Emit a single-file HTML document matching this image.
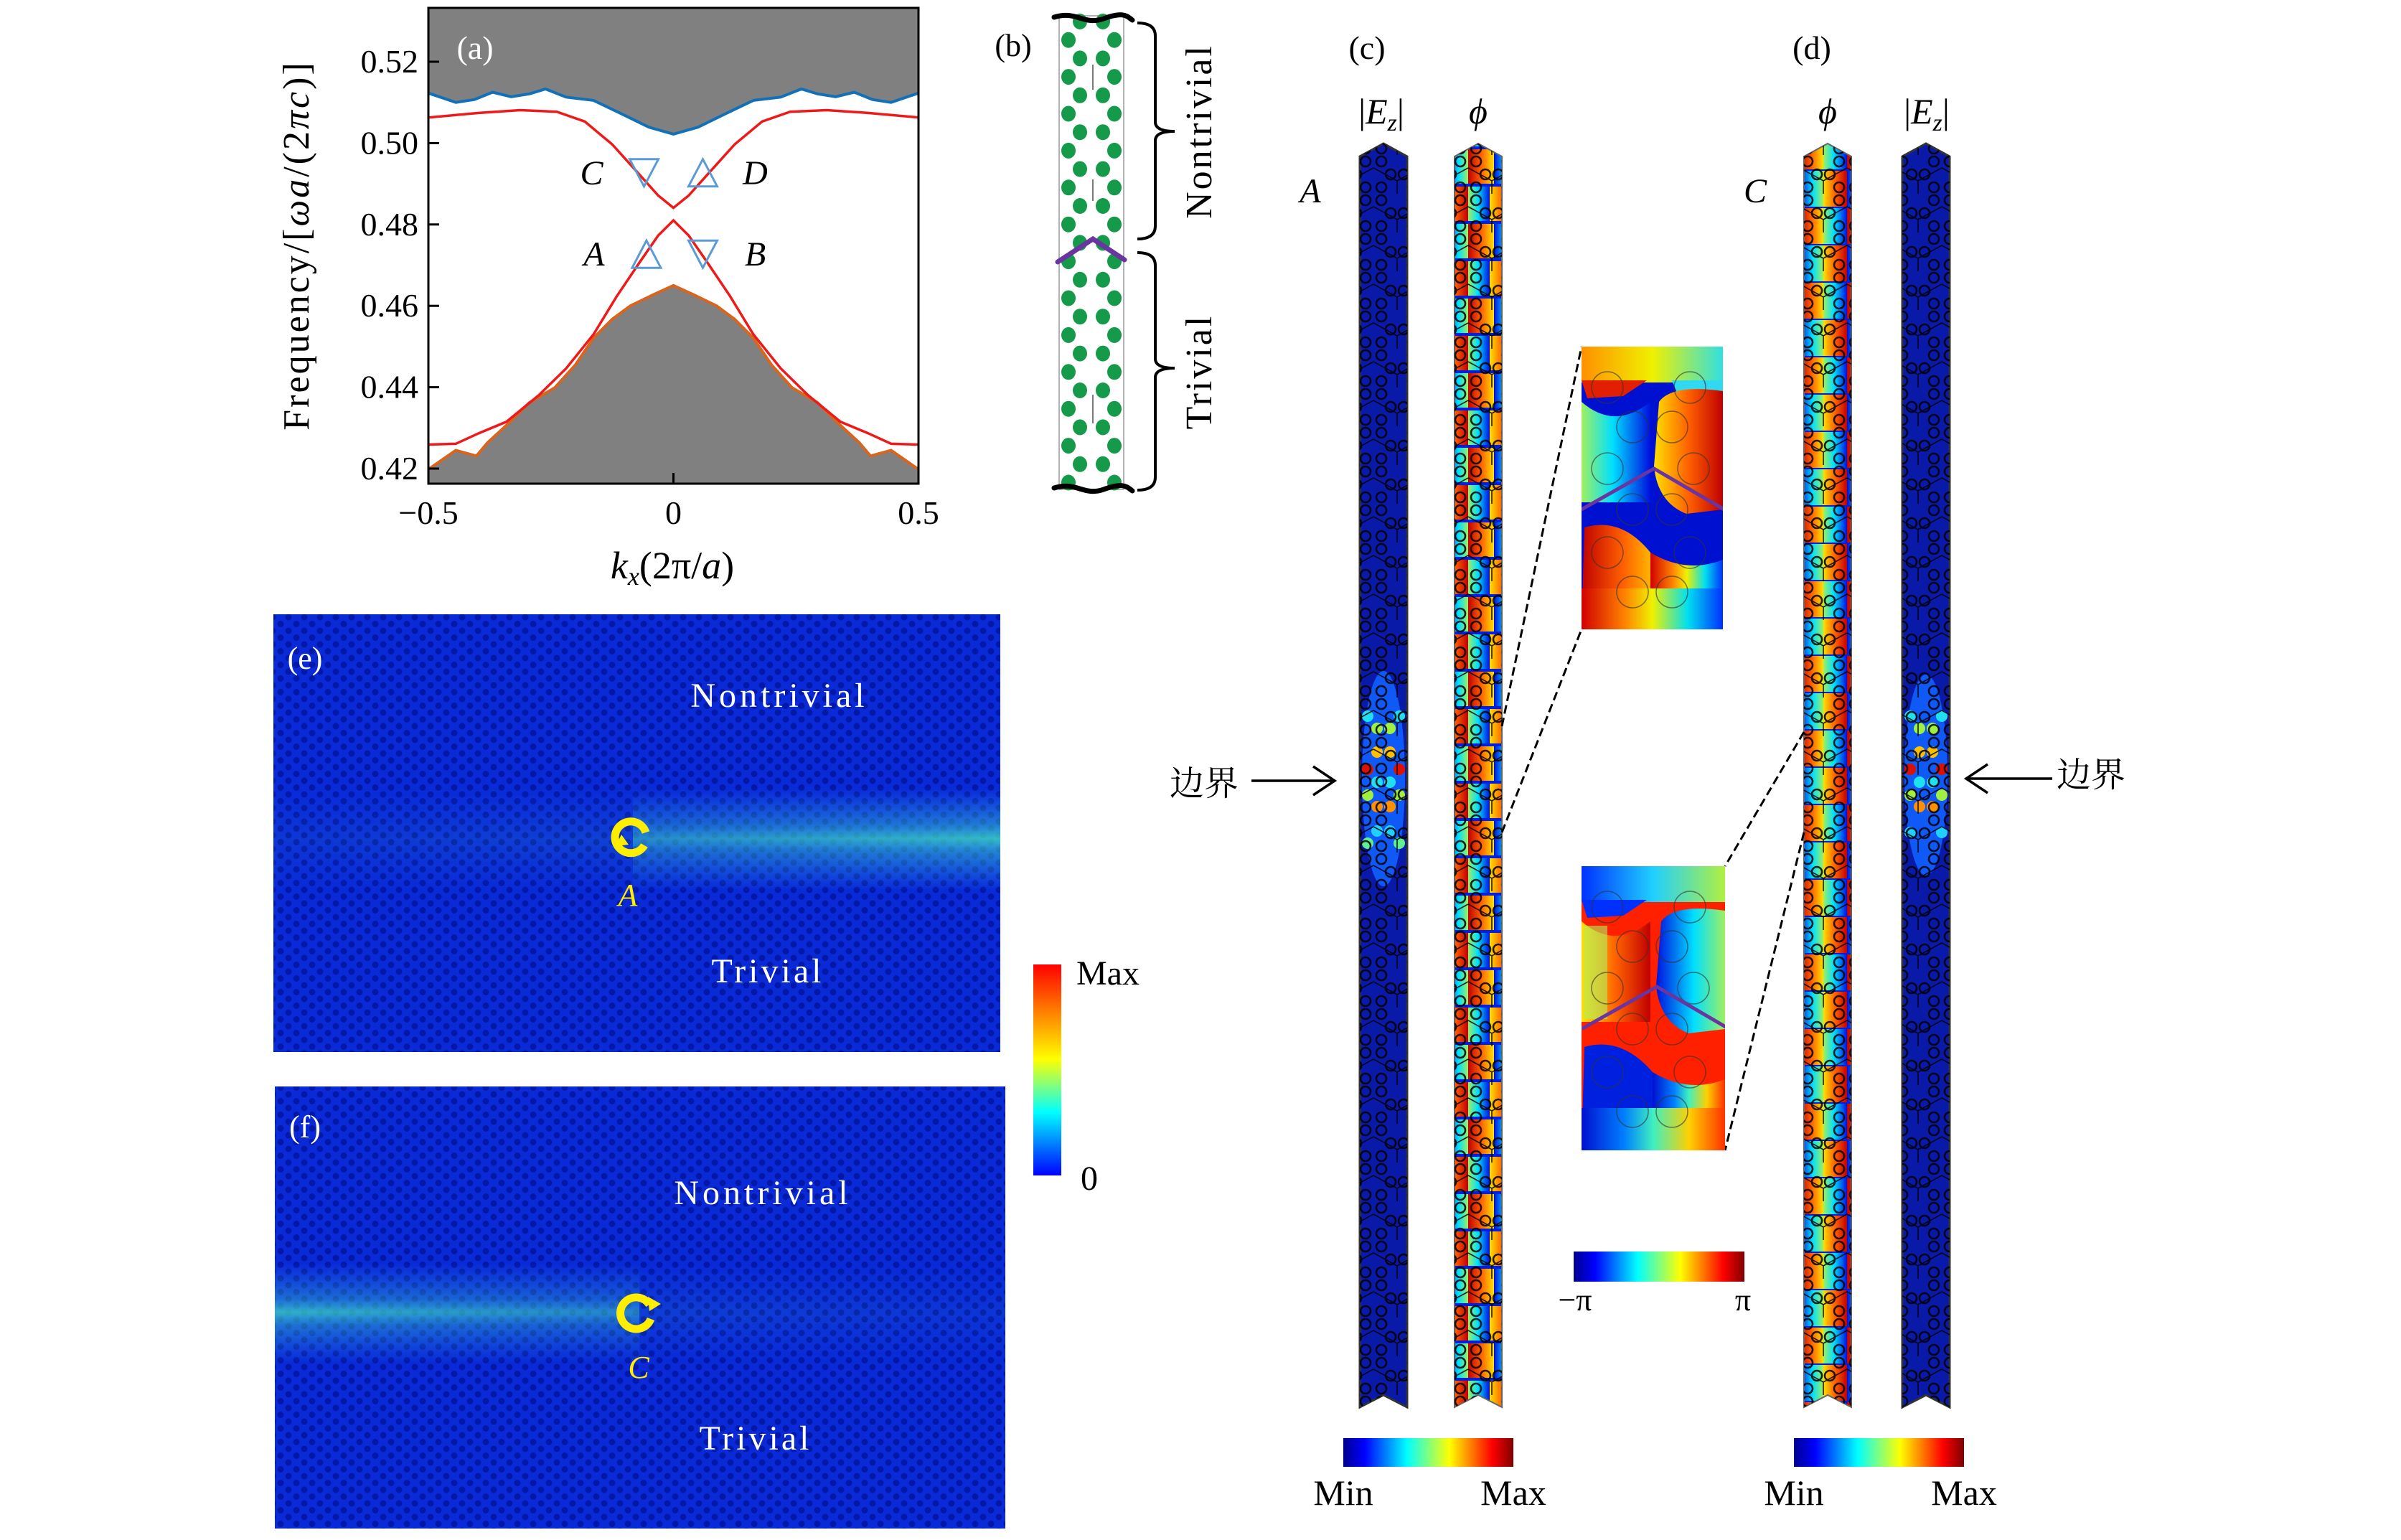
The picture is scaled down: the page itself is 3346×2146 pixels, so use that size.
<!DOCTYPE html>
<html><head><meta charset="utf-8"><style>
html,body{margin:0;padding:0;background:#fff;}
svg{display:block;}
text{font-family:"Liberation Serif","Noto Serif CJK SC",serif;}
</style></head><body>
<svg id="fig" width="3346" height="2146" viewBox="0 0 3346 2146" xmlns="http://www.w3.org/2000/svg">
<defs>
<linearGradient id="jetH" x1="0" y1="0" x2="1" y2="0">
<stop offset="0" stop-color="#00008f"/><stop offset="0.125" stop-color="#0000ff"/><stop offset="0.375" stop-color="#00ffff"/><stop offset="0.625" stop-color="#ffff00"/><stop offset="0.875" stop-color="#ff0000"/><stop offset="1" stop-color="#800000"/>
</linearGradient>
<linearGradient id="jetV" x1="0" y1="1" x2="0" y2="0">
<stop offset="0" stop-color="#0000ff"/><stop offset="0.3" stop-color="#00ffff"/><stop offset="0.55" stop-color="#ffff00"/><stop offset="1" stop-color="#ff0000"/>
</linearGradient>
<linearGradient id="warm" x1="0" y1="0" x2="1" y2="0"><stop offset="0" stop-color="#c00000"/><stop offset="0.5" stop-color="#ff6000"/><stop offset="1" stop-color="#ffe000"/></linearGradient>
<linearGradient id="warmR" x1="1" y1="0" x2="0" y2="0"><stop offset="0" stop-color="#c00000"/><stop offset="0.5" stop-color="#ff6000"/><stop offset="1" stop-color="#ffe000"/></linearGradient>
<linearGradient id="cool" x1="0" y1="0" x2="1" y2="0"><stop offset="0" stop-color="#a0f060"/><stop offset="0.45" stop-color="#00e0ff"/><stop offset="1" stop-color="#0010e0"/></linearGradient>
<linearGradient id="coolR" x1="1" y1="0" x2="0" y2="0"><stop offset="0" stop-color="#a0f060"/><stop offset="0.45" stop-color="#00e0ff"/><stop offset="1" stop-color="#0010e0"/></linearGradient>
<linearGradient id="topU" x1="0" y1="0" x2="1" y2="0"><stop offset="0" stop-color="#ff9000"/><stop offset="0.5" stop-color="#f0f000"/><stop offset="1" stop-color="#30e0e0"/></linearGradient>
<linearGradient id="topL" x1="0" y1="0" x2="1" y2="0"><stop offset="0" stop-color="#0030ff"/><stop offset="0.5" stop-color="#20d0ff"/><stop offset="1" stop-color="#b0f040"/></linearGradient>
<linearGradient id="botU" x1="0" y1="0" x2="1" y2="0"><stop offset="0" stop-color="#d00000"/><stop offset="0.3" stop-color="#ff8000"/><stop offset="0.5" stop-color="#f0f000"/><stop offset="0.75" stop-color="#00e0f0"/><stop offset="1" stop-color="#0030ff"/></linearGradient>
<linearGradient id="botL" x1="0" y1="0" x2="1" y2="0"><stop offset="0" stop-color="#0010d0"/><stop offset="0.3" stop-color="#0080ff"/><stop offset="0.5" stop-color="#40f0c0"/><stop offset="0.75" stop-color="#ffd000"/><stop offset="1" stop-color="#ff3000"/></linearGradient>
<linearGradient id="glowV" x1="0" y1="0" x2="0" y2="1"><stop offset="0" stop-color="#30c0ff" stop-opacity="0"/><stop offset="0.5" stop-color="#40e0c0" stop-opacity="0.55"/><stop offset="1" stop-color="#30c0ff" stop-opacity="0"/></linearGradient>
<linearGradient id="fadeL" x1="0" y1="0" x2="1" y2="0"><stop offset="0" stop-color="#fff" stop-opacity="0.35"/><stop offset="1" stop-color="#fff" stop-opacity="1"/></linearGradient>
<linearGradient id="fadeR" x1="0" y1="0" x2="1" y2="0"><stop offset="0" stop-color="#fff" stop-opacity="1"/><stop offset="1" stop-color="#fff" stop-opacity="0.35"/></linearGradient>
<mask id="mL"><rect x="381" y="1514" width="1020" height="620" fill="url(#fadeR)"/></mask>
<mask id="mR"><rect x="381" y="856" width="1013" height="610" fill="url(#fadeL)"/></mask>
<pattern id="hexdots" width="22" height="19" patternUnits="userSpaceOnUse">
<rect width="22" height="19" fill="#0a2ad8"/><circle cx="6" cy="5" r="4.5" fill="#0418a8"/><circle cx="17" cy="14.5" r="4.5" fill="#0418a8"/>
</pattern>
<pattern id="circ" width="66" height="54" patternUnits="userSpaceOnUse">
<g fill="none" stroke="#000" stroke-width="2.6"><circle cx="11" cy="9" r="7"/><circle cx="55" cy="9" r="7"/><circle cx="24" cy="27" r="7"/><circle cx="42" cy="27" r="7"/><circle cx="11" cy="45" r="7"/><circle cx="55" cy="45" r="7"/></g>
<path d="M0 18 L33 36 L66 18 M33 36 L33 54" stroke="#000" stroke-width="1.6" fill="none"/>
</pattern>
<pattern id="phase" width="66" height="104" patternUnits="userSpaceOnUse">
<rect width="66" height="104" fill="#0020e0"/>
<rect x="0" y="0" width="36" height="48" fill="url(#warm)"/>
<rect x="36" y="0" width="30" height="48" fill="url(#coolR)"/>
<rect x="0" y="52" width="30" height="48" fill="url(#cool)"/>
<rect x="30" y="52" width="36" height="48" fill="url(#warmR)"/>
</pattern>
<pattern id="phase2" width="66" height="104" patternUnits="userSpaceOnUse" patternTransform="translate(0,30)">
<rect width="66" height="104" fill="#0020e0"/>
<rect x="0" y="0" width="33" height="50" fill="url(#coolR)"/>
<rect x="33" y="0" width="33" height="50" fill="url(#warmR)"/>
<rect x="0" y="52" width="33" height="50" fill="url(#warm)"/>
<rect x="33" y="52" width="33" height="50" fill="url(#cool)"/>
</pattern>
<clipPath id="plotClip"><rect x="597" y="11" width="683" height="663"/></clipPath>
<clipPath id="insU"><rect x="2204" y="483" width="197" height="394"/></clipPath>
<clipPath id="insL"><rect x="2204" y="1207" width="200" height="396"/></clipPath>
</defs>

<!-- ===== Panel (a) ===== -->
<g id="panel-a"></g>

<!-- ===== Panel (b) ===== -->
<g>
<rect x="1476" y="22" width="90" height="660" fill="#fff" stroke="#999" stroke-width="1.5"/>
<g id="bdots"></g>
<path d="M1523 90 V 125 M1523 250 V 280 M1523 550 V 590" stroke="#222" stroke-width="1.2"/>
<path d="M1469 24 C 1500 14, 1510 36, 1538 26 S 1570 22, 1578 28" stroke="#000" stroke-width="7" fill="none" stroke-linecap="round"/>
<path d="M1469 680 C 1500 670, 1510 692, 1538 682 S 1570 678, 1578 684" stroke="#000" stroke-width="7" fill="none" stroke-linecap="round"/>
<path d="M1474 365 L1523 333 L1567 362" stroke="#6a35a0" stroke-width="7" fill="none" stroke-linecap="round"/>
<path d="M1585 32 Q1610 32 1610 50 V170 Q1610 183 1637 183 Q1610 183 1610 196 V315 Q1610 333 1585 333" stroke="#000" stroke-width="4" fill="none"/>
<path d="M1585 352 Q1610 352 1610 370 V500 Q1610 513 1637 513 Q1610 513 1610 526 V665 Q1610 683 1585 683" stroke="#000" stroke-width="4" fill="none"/>
<text x="1412" y="78" font-size="44" text-anchor="middle">(b)</text>
<text transform="translate(1688,183) rotate(-90)" font-size="52" letter-spacing="3" text-anchor="middle">Nontrivial</text>
<text transform="translate(1688,518) rotate(-90)" font-size="52" letter-spacing="3" text-anchor="middle">Trivial</text>
</g>

<!-- ===== Panels (c),(d) ===== -->
<g>
<text x="1905" y="82" font-size="46" text-anchor="middle">(c)</text>
<text x="2525" y="82" font-size="46" text-anchor="middle">(d)</text>
<text x="1925" y="172" font-size="50" text-anchor="middle">|<tspan font-style="italic">E</tspan><tspan font-style="italic" font-size="34" dy="10">z</tspan><tspan dy="-10">|</tspan></text>
<text x="2060" y="172" font-size="50" font-style="italic" text-anchor="middle">ϕ</text>
<text x="2547" y="172" font-size="50" font-style="italic" text-anchor="middle">ϕ</text>
<text x="2685" y="172" font-size="50" text-anchor="middle">|<tspan font-style="italic">E</tspan><tspan font-style="italic" font-size="34" dy="10">z</tspan><tspan dy="-10">|</tspan></text>
<text x="1826" y="282" font-size="48" font-style="italic" text-anchor="middle">A</text>
<text x="2446" y="282" font-size="48" font-style="italic" text-anchor="middle">C</text>

<g>
<path d="M1895 218 L1928 200 L1961 218 V1961 L1928 1944 L1895 1961 Z" fill="#0a1aa8" stroke="#333" stroke-width="3"/>
<g fill="#1060ff" opacity="0.9"><ellipse cx="1928" cy="1085" rx="30" ry="150"/></g>
<g><circle cx="1906" cy="1072" r="8" fill="#e01000"/><circle cx="1950" cy="1072" r="8" fill="#e01000"/>
<circle cx="1919" cy="1048" r="8" fill="#ffc000"/><circle cx="1937" cy="1048" r="8" fill="#ffc000"/>
<circle cx="1919" cy="1124" r="8" fill="#ff9000"/><circle cx="1937" cy="1124" r="8" fill="#ff9000"/>
<circle cx="1906" cy="1108" r="8" fill="#a0f040"/><circle cx="1950" cy="1108" r="8" fill="#a0f040"/>
<circle cx="1919" cy="1090" r="8" fill="#20e0f0"/><circle cx="1937" cy="1090" r="8" fill="#20e0f0"/>
<circle cx="1919" cy="1015" r="8" fill="#a0f040"/><circle cx="1937" cy="1015" r="8" fill="#a0f040"/>
<circle cx="1906" cy="998" r="8" fill="#20e0f0"/><circle cx="1950" cy="998" r="8" fill="#20e0f0"/>
<circle cx="1906" cy="1175" r="8" fill="#60f090"/><circle cx="1950" cy="1175" r="8" fill="#60f090"/>
<circle cx="1919" cy="1158" r="8" fill="#20d0ff"/><circle cx="1937" cy="1158" r="8" fill="#20d0ff"/></g>
<path d="M1895 218 L1928 200 L1961 218 V1961 L1928 1944 L1895 1961 Z" fill="url(#circ)" opacity="0.85"/>
</g>
<g>
<path d="M2027 218 L2060 200 L2093 218 V1961 L2060 1944 L2027 1961 Z" fill="url(#phase)" stroke="#666" stroke-width="2"/>
<path d="M2027 218 L2060 200 L2093 218 V1961 L2060 1944 L2027 1961 Z" fill="url(#circ)" opacity="0.85"/>
</g>
<g>
<path d="M2514 218 L2547 200 L2580 218 V1961 L2547 1944 L2514 1961 Z" fill="url(#phase2)" stroke="#666" stroke-width="2"/>
<path d="M2514 218 L2547 200 L2580 218 V1961 L2547 1944 L2514 1961 Z" fill="url(#circ)" opacity="0.85"/>
</g>
<g>
<path d="M2651 218 L2684 200 L2717 218 V1961 L2684 1944 L2651 1961 Z" fill="#0a1aa8" stroke="#333" stroke-width="3"/>
<ellipse cx="2684" cy="1080" rx="30" ry="140" fill="#1060ff" opacity="0.9"/>
<g><circle cx="2662" cy="1072" r="8" fill="#e01000"/><circle cx="2706" cy="1072" r="8" fill="#e01000"/>
<circle cx="2675" cy="1048" r="8" fill="#ffc000"/><circle cx="2693" cy="1048" r="8" fill="#ffc000"/>
<circle cx="2675" cy="1124" r="8" fill="#ff9000"/><circle cx="2693" cy="1124" r="8" fill="#ff9000"/>
<circle cx="2662" cy="1108" r="8" fill="#a0f040"/><circle cx="2706" cy="1108" r="8" fill="#a0f040"/>
<circle cx="2675" cy="1090" r="8" fill="#20e0f0"/><circle cx="2693" cy="1090" r="8" fill="#20e0f0"/>
<circle cx="2675" cy="1015" r="8" fill="#a0f040"/><circle cx="2693" cy="1015" r="8" fill="#a0f040"/>
<circle cx="2662" cy="998" r="8" fill="#20e0f0"/><circle cx="2706" cy="998" r="8" fill="#20e0f0"/>
<circle cx="2662" cy="1160" r="8" fill="#20d0ff"/><circle cx="2706" cy="1160" r="8" fill="#20d0ff"/></g>
<path d="M2651 218 L2684 200 L2717 218 V1961 L2684 1944 L2651 1961 Z" fill="url(#circ)" opacity="0.85"/>
</g>

<text x="1678" y="1108" font-size="48" text-anchor="middle">边界</text>
<path d="M1744 1088 H1858 M1830 1068 L1860 1088 L1830 1108" stroke="#000" stroke-width="3.5" fill="none"/>
<text x="2914" y="1096" font-size="48" text-anchor="middle">边界</text>
<path d="M2860 1085 H2742 M2770 1065 L2740 1085 L2770 1105" stroke="#000" stroke-width="3.5" fill="none"/>

<g stroke="#000" stroke-width="3" stroke-dasharray="12,6" fill="none">
<path d="M2093 1012 L2204 483"/><path d="M2093 1160 L2204 877"/>
<path d="M2514 1020 L2404 1207"/><path d="M2514 1160 L2404 1603"/>
</g>

<g clip-path="url(#insU)">
<rect x="2204" y="483" width="197" height="394" fill="#0010d0"/>
<rect x="2204" y="483" width="197" height="50" fill="url(#topU)"/>
<path d="M2204 530 H2295 L2262 552 L2212 555 Z" fill="#e02000"/>
<path d="M2330 530 H2401 V555 H2340 Z" fill="#30d8f0"/>
<path d="M2204 560 Q2250 600 2300 560 V700 H2204 Z" fill="url(#cool)"/>
<path d="M2305 650 L2312 560 Q2330 535 2401 545 V710 L2350 716 Q2310 700 2305 650 Z" fill="url(#warmR)"/>
<path d="M2208 735 Q2260 720 2300 770 L2320 877 H2204 Z" fill="url(#warm)"/>
<path d="M2300 770 Q2350 800 2401 780 V877 H2300 Z" fill="url(#botU)"/>
<rect x="2204" y="820" width="197" height="57" fill="url(#botU)"/>
<g fill="none" stroke="#333" stroke-width="1.5" opacity="0.6"><circle cx="2240" cy="540" r="22"/><circle cx="2355" cy="540" r="22"/><circle cx="2275" cy="595" r="22"/><circle cx="2330" cy="595" r="22"/><circle cx="2240" cy="653" r="22"/><circle cx="2360" cy="653" r="22"/><circle cx="2275" cy="710" r="22"/><circle cx="2330" cy="710" r="22"/><circle cx="2240" cy="770" r="22"/><circle cx="2355" cy="770" r="22"/><circle cx="2275" cy="825" r="22"/><circle cx="2330" cy="825" r="22"/></g>
<path d="M2204 710 L2305 653 L2408 713" stroke="#6a35a0" stroke-width="5" fill="none"/>
</g>
<g clip-path="url(#insL)">
<rect x="2204" y="1207" width="200" height="396" fill="#ff2000"/>
<rect x="2204" y="1207" width="200" height="50" fill="url(#topL)"/>
<path d="M2204 1254 H2295 L2262 1276 L2212 1279 Z" fill="#0030ff"/>
<path d="M2204 1284 Q2250 1324 2300 1284 V1424 H2204 Z" fill="url(#warmR)"/>
<path d="M2207 1290 H2240 V1420 H2207 Z" fill="#b0f060" opacity="0.6"/>
<path d="M2308 1374 L2315 1284 Q2333 1259 2404 1269 V1434 L2353 1440 Q2313 1424 2308 1374 Z" fill="url(#coolR)"/>
<path d="M2208 1459 Q2260 1444 2303 1494 L2323 1603 H2204 Z" fill="#0020e0"/>
<path d="M2303 1494 Q2353 1524 2404 1504 V1603 H2303 Z" fill="url(#botL)"/>
<rect x="2204" y="1544" width="200" height="59" fill="url(#botL)"/>
<g fill="none" stroke="#333" stroke-width="1.5" opacity="0.6"><circle cx="2240" cy="1264" r="22"/><circle cx="2355" cy="1264" r="22"/><circle cx="2275" cy="1319" r="22"/><circle cx="2330" cy="1319" r="22"/><circle cx="2240" cy="1377" r="22"/><circle cx="2360" cy="1377" r="22"/><circle cx="2275" cy="1434" r="22"/><circle cx="2330" cy="1434" r="22"/><circle cx="2240" cy="1494" r="22"/><circle cx="2355" cy="1494" r="22"/><circle cx="2275" cy="1549" r="22"/><circle cx="2330" cy="1549" r="22"/></g>
<path d="M2204 1434 L2309 1375 L2410 1434" stroke="#6a35a0" stroke-width="5" fill="none"/>
</g>

<rect x="2193" y="1744" width="238" height="42" fill="url(#jetH)"/>
<text x="2195" y="1826" font-size="44" text-anchor="middle">−π</text>
<text x="2429" y="1826" font-size="44" text-anchor="middle">π</text>
<rect x="1872" y="2004" width="237" height="40" fill="url(#jetH)"/>
<text x="1872" y="2097" font-size="50" text-anchor="middle">Min</text>
<text x="2109" y="2097" font-size="50" text-anchor="middle">Max</text>
<rect x="2500" y="2004" width="237" height="40" fill="url(#jetH)"/>
<text x="2500" y="2097" font-size="50" text-anchor="middle">Min</text>
<text x="2737" y="2097" font-size="50" text-anchor="middle">Max</text>
</g>

<g>
<rect x="381" y="856" width="1013" height="610" fill="url(#hexdots)"/>
<g mask="url(#mR)">
<rect x="381" y="1095" width="1013" height="150" fill="url(#glowV)" opacity="0.35"/>
<rect x="882" y="1100" width="512" height="140" fill="url(#glowV)"/>
<rect x="882" y="1150" width="512" height="36" fill="url(#glowV)" opacity="0.8"/>
</g>
<text x="425" y="932" font-size="44" fill="#fff" text-anchor="middle">(e)</text>
<text x="1086" y="985" font-size="48" letter-spacing="5" fill="#fff" text-anchor="middle">Nontrivial</text>
<text x="1070" y="1369" font-size="48" letter-spacing="4" fill="#fff" text-anchor="middle">Trivial</text>
<path d="M898 1178 A22 22 0 1 1 900 1160" stroke="#ffee00" stroke-width="11" fill="none"/>
<path d="M876 1177 l-18 2 l8 -16 z" fill="#ffee00"/>
<text x="875" y="1262" font-size="44" font-style="italic" fill="#ffee00" text-anchor="middle">A</text>
</g>

<g>
<rect x="383" y="1514" width="1018" height="616" fill="url(#hexdots)"/>
<g mask="url(#mL)">
<rect x="383" y="1760" width="508" height="140" fill="url(#glowV)"/>
<rect x="383" y="1810" width="508" height="36" fill="url(#glowV)" opacity="0.8"/>
<rect x="891" y="1760" width="510" height="140" fill="url(#glowV)" opacity="0.3"/>
</g>
<text x="425" y="1585" font-size="44" fill="#fff" text-anchor="middle">(f)</text>
<text x="1063" y="1678" font-size="48" letter-spacing="5" fill="#fff" text-anchor="middle">Nontrivial</text>
<text x="1053" y="2020" font-size="48" letter-spacing="4" fill="#fff" text-anchor="middle">Trivial</text>
<path d="M907 1838 A22 22 0 1 1 905 1818" stroke="#ffee00" stroke-width="11" fill="none"/>
<path d="M903 1807 l18 10 l-16 10 z" fill="#ffee00"/>
<text x="890" y="1920" font-size="44" font-style="italic" fill="#ffee00" text-anchor="middle">C</text>
</g>

<rect x="1440" y="1344" width="39" height="294" fill="url(#jetV)"/>
<text x="1500" y="1372" font-size="48">Max</text>
<text x="1506" y="1658" font-size="48">0</text>
</svg>

<script>
const kUpper = [-0.5,-0.444,-0.406,-0.369,-0.331,-0.294,-0.261,-0.219,-0.163,-0.106,-0.05,0,0.05,0.106,0.163,0.219,0.261,0.294,0.331,0.369,0.406,0.444,0.5];
const fUpperBand = [0.5123,0.5100,0.5107,0.5125,0.5114,0.5121,0.5133,0.5113,0.5105,0.5072,0.5039,0.5022,0.5039,0.5072,0.5105,0.5113,0.5133,0.5121,0.5114,0.5125,0.5107,0.5100,0.5123];
const kEdge = [-0.5,-0.397,-0.313,-0.238,-0.181,-0.125,-0.069,-0.031,0,0.031,0.069,0.125,0.181,0.238,0.313,0.397,0.5];
const fEdgeUpper = [0.5063,0.5074,0.5081,0.5077,0.5053,0.4997,0.4922,0.4871,0.4841,0.4871,0.4922,0.4997,0.5053,0.5077,0.5081,0.5074,0.5063];
const kEdgeLow = [-0.5,-0.444,-0.397,-0.341,-0.275,-0.219,-0.163,-0.116,-0.069,-0.031,0,0.031,0.069,0.116,0.163,0.219,0.275,0.341,0.397,0.444,0.5];
const fEdgeLower = [0.4259,0.4261,0.4287,0.4315,0.4380,0.4446,0.4530,0.4623,0.4707,0.4773,0.4810,0.4773,0.4707,0.4623,0.4530,0.4446,0.4380,0.4315,0.4287,0.4261,0.4259];
const kLower = [-0.5,-0.444,-0.402,-0.379,-0.341,-0.294,-0.242,-0.200,-0.163,-0.125,-0.088,-0.040,0,0.040,0.088,0.125,0.163,0.200,0.242,0.294,0.341,0.379,0.402,0.444,0.5];
const fLowerBand = [0.4198,0.4245,0.4231,0.4264,0.4306,0.4362,0.4399,0.4455,0.4521,0.4567,0.4600,0.4628,0.4650,0.4628,0.4600,0.4567,0.4521,0.4455,0.4399,0.4362,0.4306,0.4264,0.4231,0.4245,0.4198];
const markerNames = ["A","B","C","D"];
const markerK = [-0.055,0.06,-0.06,0.06];
const markerF = [0.4727,0.4727,0.4927,0.4927];
const markerUp = [true,false,false,true];
const yTicks = [0.42,0.44,0.46,0.48,0.50,0.52];
const yTickLabels = ["0.42","0.44","0.46","0.48","0.50","0.52"];
const xTicks = [-0.5,0,0.5];
const xTickLabels = ["−0.5","0","0.5"];

const NS = "http://www.w3.org/2000/svg";
const X0=597, X1=1280, YT=11, YB=674;
function xS(k){ return X0 + (k+0.5)*(X1-X0); }
function yS(f){ return 86 + (0.52-f)*5670; }
function mk(tag, attrs, parent){ const e=document.createElementNS(NS,tag); for(const a in attrs) e.setAttribute(a,attrs[a]); parent.appendChild(e); return e; }
function pts(ks, fs){ return ks.map((k,i)=>xS(k).toFixed(1)+","+yS(fs[i]).toFixed(1)).join(" "); }

const g = document.getElementById("panel-a");
const plot = mk("g",{"clip-path":"url(#plotClip)"},g);



const upFill = mk("polygon",{points: xS(-0.5)+","+YT+" "+pts(kUpper,fUpperBand)+" "+xS(0.5)+","+YT, fill:"#808080"},plot);


const loFill = mk("polygon",{points: xS(-0.5)+","+YB+" "+pts(kLower,fLowerBand)+" "+xS(0.5)+","+YB, fill:"#808080"},plot);



const l1 = mk("polyline",{points:pts(kUpper,fUpperBand), fill:"none", stroke:"#1270b8", "stroke-width":4},plot);


const l2 = mk("polyline",{points:pts(kLower,fLowerBand), fill:"none", stroke:"#d8641e", "stroke-width":4},plot);


const l3 = mk("polyline",{points:pts(kEdge,fEdgeUpper), fill:"none", stroke:"#ee1a1a", "stroke-width":3.5},plot);


const l4 = mk("polyline",{points:pts(kEdgeLow,fEdgeLower), fill:"none", stroke:"#ee1a1a", "stroke-width":3.5},plot);



for(let i=0;i<markerNames.length;i++){
  const cx=xS(markerK[i]), cy=yS(markerF[i]), h=19, w=20;
  const p = markerUp[i] ? `${cx},${cy-h} ${cx+w},${cy+h} ${cx-w},${cy+h}` : `${cx},${cy+h} ${cx+w},${cy-h} ${cx-w},${cy-h}`;
  const t = mk("polygon",{points:p, fill:"none", stroke:"#5b9bd5", "stroke-width":3},g);
  
  
  const lx = markerK[i]<0 ? xS(markerK[i])-73 : xS(markerK[i])+73;
  const tx = mk("text",{x:lx, y:cy+16, "font-size":48, "font-style":"italic", "text-anchor":"middle"},g);
  tx.textContent = markerNames[i];
  
  
}

const fr = mk("rect",{x:X0,y:YT,width:X1-X0,height:YB-YT,fill:"none",stroke:"#000","stroke-width":3},g);



for(let i=0;i<yTicks.length;i++){
  const y=yS(yTicks[i]);
  const tk = mk("line",{x1:X0,x2:X0+15,y1:y,y2:y,stroke:"#000","stroke-width":3},g);
  
  
  const t = mk("text",{x:X0-14,y:y+15,"font-size":46,"text-anchor":"end"},g);
  t.textContent=yTickLabels[i];
  
  
}
for(let i=0;i<xTicks.length;i++){
  const x=xS(xTicks[i]);
  const tk = mk("line",{x1:x,x2:x,y1:YB,y2:YB-15,stroke:"#000","stroke-width":3},g);
  
  
  const t = mk("text",{x:x,y:730,"font-size":46,"text-anchor":"middle"},g);
  t.textContent=xTickLabels[i];
  
  
}
const lab = mk("text",{x:662,y:82,"font-size":46,fill:"#fff","text-anchor":"middle"},g);
lab.textContent="(a)";



const xt = mk("text",{x:937,y:806,"font-size":54,"text-anchor":"middle"},g);
xt.innerHTML = '<tspan font-style="italic">k</tspan><tspan font-style="italic" font-size="36" dy="9">x</tspan><tspan dy="-9">(2π/</tspan><tspan font-style="italic">a</tspan><tspan>)</tspan>';


const yt = mk("text",{transform:"translate(430,342) rotate(-90)","font-size":52,"letter-spacing":"3","text-anchor":"middle"},g);
yt.innerHTML = 'Frequency/[<tspan font-style="italic">ωa</tspan>/(2<tspan font-style="italic">πc</tspan>)]';



const bd = document.getElementById("bdots");
for(let r=0;r<26;r++){
  const y = 30 + r*25.7;
  const inner = (r%2===0);
  const xs = inner ? [1505,1537] : [1489,1553];
  for(const x of xs){
    const c = mk("ellipse",{cx:x,cy:y,rx:10,ry:11,fill:"#159a4a"},bd);
    
    
  }
}
</script>
</body></html>
